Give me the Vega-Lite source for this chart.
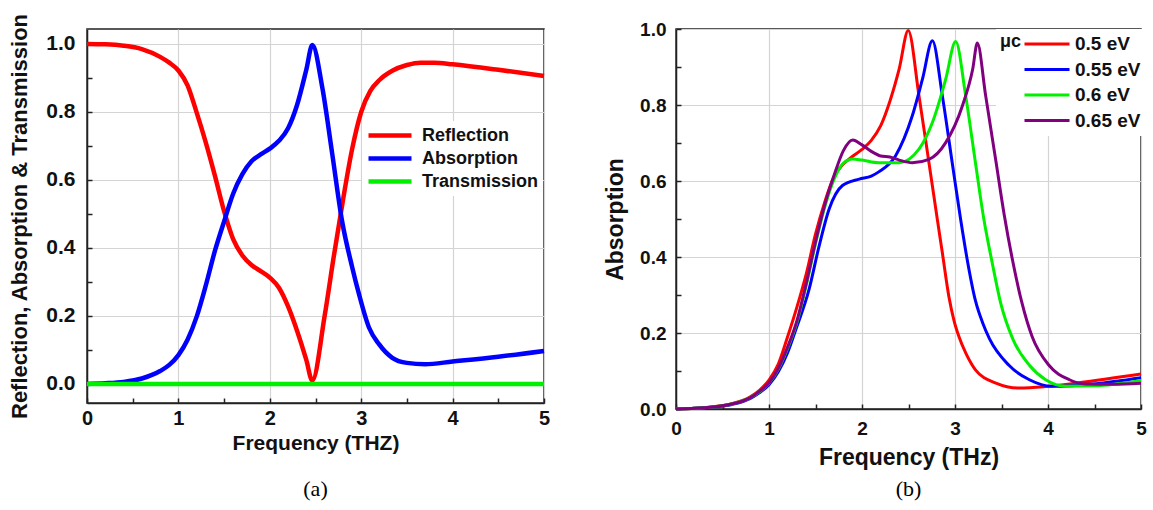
{
  "$schema": "https://vega.github.io/schema/vega-lite/v6.json",
  "padding": {"left": 8, "top": 12, "right": 0, "bottom": 0},
  "background": "white",
  "bounds": "flush",
  "spacing": 132,
  "resolve": {"scale": {"color": "independent"}, "legend": {"color": "independent"}},
  "config": {
    "font": "Liberation Sans",
    "view": {"stroke": "#222222", "strokeWidth": 1.5},
    "axis": {
      "labelFont": "Liberation Sans", "labelFontWeight": "bold", "labelColor": "#111111",
      "titleFont": "Liberation Sans", "titleFontWeight": "bold", "titleColor": "#111111",
      "domainColor": "#222222", "domainWidth": 1.5, "tickColor": "#222222", "tickWidth": 1.5,
      "gridColor": "#d4d4d4", "gridWidth": 1.2, "labelOverlap": false, "labelFlush": false
    },
    "legend": {
      "labelFont": "Liberation Sans", "labelFontWeight": "bold", "labelColor": "#111111",
      "titleFont": "Liberation Sans", "titleFontWeight": "bold", "titleColor": "#111111"
    },
    "title": {"font": "Liberation Serif", "fontWeight": "normal", "color": "#000000"}
  },
  "datasets": {
    "a": [
      {"series": "Reflection", "f": 0, "v": 1.0},
      {"series": "Reflection", "f": 0.2, "v": 0.999},
      {"series": "Reflection", "f": 0.4, "v": 0.995},
      {"series": "Reflection", "f": 0.6, "v": 0.985},
      {"series": "Reflection", "f": 0.8, "v": 0.962},
      {"series": "Reflection", "f": 0.9, "v": 0.945},
      {"series": "Reflection", "f": 1.0, "v": 0.922},
      {"series": "Reflection", "f": 1.1, "v": 0.878},
      {"series": "Reflection", "f": 1.2, "v": 0.798},
      {"series": "Reflection", "f": 1.3, "v": 0.71},
      {"series": "Reflection", "f": 1.4, "v": 0.612},
      {"series": "Reflection", "f": 1.5, "v": 0.508},
      {"series": "Reflection", "f": 1.6, "v": 0.425},
      {"series": "Reflection", "f": 1.7, "v": 0.378},
      {"series": "Reflection", "f": 1.8, "v": 0.35},
      {"series": "Reflection", "f": 1.9, "v": 0.332},
      {"series": "Reflection", "f": 2.0, "v": 0.313},
      {"series": "Reflection", "f": 2.1, "v": 0.283},
      {"series": "Reflection", "f": 2.2, "v": 0.228},
      {"series": "Reflection", "f": 2.3, "v": 0.155},
      {"series": "Reflection", "f": 2.4, "v": 0.07},
      {"series": "Reflection", "f": 2.465, "v": 0.01},
      {"series": "Reflection", "f": 2.6, "v": 0.2},
      {"series": "Reflection", "f": 2.7, "v": 0.375},
      {"series": "Reflection", "f": 2.8, "v": 0.54},
      {"series": "Reflection", "f": 2.9, "v": 0.69},
      {"series": "Reflection", "f": 3.0, "v": 0.8},
      {"series": "Reflection", "f": 3.1, "v": 0.862},
      {"series": "Reflection", "f": 3.2, "v": 0.894},
      {"series": "Reflection", "f": 3.34, "v": 0.921},
      {"series": "Reflection", "f": 3.5, "v": 0.938},
      {"series": "Reflection", "f": 3.65, "v": 0.945},
      {"series": "Reflection", "f": 3.8, "v": 0.945},
      {"series": "Reflection", "f": 4.0, "v": 0.94},
      {"series": "Reflection", "f": 4.5, "v": 0.924},
      {"series": "Reflection", "f": 5.0, "v": 0.906},
      {"series": "Absorption", "f": 0, "v": 0.0},
      {"series": "Absorption", "f": 0.2, "v": 0.002},
      {"series": "Absorption", "f": 0.4, "v": 0.006},
      {"series": "Absorption", "f": 0.6, "v": 0.016},
      {"series": "Absorption", "f": 0.8, "v": 0.038},
      {"series": "Absorption", "f": 0.9, "v": 0.056},
      {"series": "Absorption", "f": 1.0, "v": 0.085},
      {"series": "Absorption", "f": 1.1, "v": 0.13},
      {"series": "Absorption", "f": 1.2, "v": 0.198},
      {"series": "Absorption", "f": 1.3, "v": 0.29},
      {"series": "Absorption", "f": 1.4, "v": 0.392},
      {"series": "Absorption", "f": 1.5, "v": 0.478},
      {"series": "Absorption", "f": 1.6, "v": 0.56},
      {"series": "Absorption", "f": 1.7, "v": 0.617},
      {"series": "Absorption", "f": 1.8, "v": 0.655},
      {"series": "Absorption", "f": 1.9, "v": 0.675},
      {"series": "Absorption", "f": 2.0, "v": 0.692},
      {"series": "Absorption", "f": 2.1, "v": 0.715},
      {"series": "Absorption", "f": 2.2, "v": 0.752},
      {"series": "Absorption", "f": 2.3, "v": 0.822},
      {"series": "Absorption", "f": 2.4, "v": 0.925},
      {"series": "Absorption", "f": 2.465, "v": 0.997},
      {"series": "Absorption", "f": 2.575, "v": 0.871},
      {"series": "Absorption", "f": 2.684, "v": 0.675},
      {"series": "Absorption", "f": 2.79, "v": 0.48},
      {"series": "Absorption", "f": 2.9, "v": 0.345},
      {"series": "Absorption", "f": 2.976, "v": 0.264},
      {"series": "Absorption", "f": 3.085, "v": 0.166},
      {"series": "Absorption", "f": 3.195, "v": 0.117},
      {"series": "Absorption", "f": 3.34, "v": 0.077},
      {"series": "Absorption", "f": 3.5, "v": 0.062},
      {"series": "Absorption", "f": 3.7, "v": 0.058},
      {"series": "Absorption", "f": 4.0, "v": 0.066},
      {"series": "Absorption", "f": 4.5, "v": 0.08},
      {"series": "Absorption", "f": 5.0, "v": 0.097},
      {"series": "Transmission", "f": 0, "v": 0},
      {"series": "Transmission", "f": 1, "v": 0},
      {"series": "Transmission", "f": 2, "v": 0},
      {"series": "Transmission", "f": 3, "v": 0},
      {"series": "Transmission", "f": 4, "v": 0},
      {"series": "Transmission", "f": 5, "v": 0}
    ],
    "b": [
      {"series": "0.5 eV", "f": 0, "v": 0},
      {"series": "0.5 eV", "f": 0.2, "v": 0.002},
      {"series": "0.5 eV", "f": 0.4, "v": 0.006},
      {"series": "0.5 eV", "f": 0.6, "v": 0.014},
      {"series": "0.5 eV", "f": 0.8, "v": 0.032},
      {"series": "0.5 eV", "f": 0.9, "v": 0.05},
      {"series": "0.5 eV", "f": 1.0, "v": 0.076},
      {"series": "0.5 eV", "f": 1.1, "v": 0.118},
      {"series": "0.5 eV", "f": 1.2, "v": 0.19},
      {"series": "0.5 eV", "f": 1.3, "v": 0.268},
      {"series": "0.5 eV", "f": 1.4, "v": 0.355},
      {"series": "0.5 eV", "f": 1.5, "v": 0.46},
      {"series": "0.5 eV", "f": 1.6, "v": 0.545},
      {"series": "0.5 eV", "f": 1.7, "v": 0.612},
      {"series": "0.5 eV", "f": 1.8, "v": 0.645},
      {"series": "0.5 eV", "f": 1.9, "v": 0.665},
      {"series": "0.5 eV", "f": 2.0, "v": 0.683},
      {"series": "0.5 eV", "f": 2.1, "v": 0.707},
      {"series": "0.5 eV", "f": 2.2, "v": 0.745},
      {"series": "0.5 eV", "f": 2.3, "v": 0.81},
      {"series": "0.5 eV", "f": 2.4, "v": 0.895},
      {"series": "0.5 eV", "f": 2.497, "v": 0.996},
      {"series": "0.5 eV", "f": 2.613, "v": 0.824},
      {"series": "0.5 eV", "f": 2.72, "v": 0.648},
      {"series": "0.5 eV", "f": 2.81, "v": 0.499},
      {"series": "0.5 eV", "f": 2.864, "v": 0.411},
      {"series": "0.5 eV", "f": 2.935, "v": 0.295},
      {"series": "0.5 eV", "f": 2.99, "v": 0.232},
      {"series": "0.5 eV", "f": 3.043, "v": 0.19},
      {"series": "0.5 eV", "f": 3.12, "v": 0.145},
      {"series": "0.5 eV", "f": 3.22, "v": 0.103},
      {"series": "0.5 eV", "f": 3.44, "v": 0.068},
      {"series": "0.5 eV", "f": 3.69, "v": 0.055},
      {"series": "0.5 eV", "f": 3.975, "v": 0.059},
      {"series": "0.5 eV", "f": 4.33, "v": 0.069},
      {"series": "0.5 eV", "f": 5.0, "v": 0.092},
      {"series": "0.55 eV", "f": 0, "v": 0},
      {"series": "0.55 eV", "f": 0.2, "v": 0.002},
      {"series": "0.55 eV", "f": 0.4, "v": 0.005},
      {"series": "0.55 eV", "f": 0.6, "v": 0.012},
      {"series": "0.55 eV", "f": 0.8, "v": 0.028},
      {"series": "0.55 eV", "f": 0.9, "v": 0.043},
      {"series": "0.55 eV", "f": 1.0, "v": 0.064},
      {"series": "0.55 eV", "f": 1.1, "v": 0.098},
      {"series": "0.55 eV", "f": 1.2, "v": 0.148},
      {"series": "0.55 eV", "f": 1.287, "v": 0.208},
      {"series": "0.55 eV", "f": 1.43, "v": 0.314},
      {"series": "0.55 eV", "f": 1.538, "v": 0.428},
      {"series": "0.55 eV", "f": 1.645, "v": 0.525},
      {"series": "0.55 eV", "f": 1.79, "v": 0.588},
      {"series": "0.55 eV", "f": 1.97, "v": 0.605},
      {"series": "0.55 eV", "f": 2.1, "v": 0.613},
      {"series": "0.55 eV", "f": 2.18, "v": 0.624},
      {"series": "0.55 eV", "f": 2.36, "v": 0.666},
      {"series": "0.55 eV", "f": 2.54, "v": 0.771},
      {"series": "0.55 eV", "f": 2.65, "v": 0.868},
      {"series": "0.55 eV", "f": 2.757, "v": 0.969},
      {"series": "0.55 eV", "f": 2.864, "v": 0.824},
      {"series": "0.55 eV", "f": 2.97, "v": 0.648},
      {"series": "0.55 eV", "f": 3.06, "v": 0.5},
      {"series": "0.55 eV", "f": 3.13, "v": 0.395},
      {"series": "0.55 eV", "f": 3.22, "v": 0.285},
      {"series": "0.55 eV", "f": 3.3, "v": 0.225},
      {"series": "0.55 eV", "f": 3.37, "v": 0.185},
      {"series": "0.55 eV", "f": 3.58, "v": 0.115},
      {"series": "0.55 eV", "f": 3.8, "v": 0.077},
      {"series": "0.55 eV", "f": 4.04, "v": 0.06},
      {"series": "0.55 eV", "f": 4.5, "v": 0.066},
      {"series": "0.55 eV", "f": 5.0, "v": 0.082},
      {"series": "0.6 eV", "f": 0, "v": 0},
      {"series": "0.6 eV", "f": 0.2, "v": 0.002},
      {"series": "0.6 eV", "f": 0.4, "v": 0.005},
      {"series": "0.6 eV", "f": 0.6, "v": 0.013},
      {"series": "0.6 eV", "f": 0.8, "v": 0.03},
      {"series": "0.6 eV", "f": 0.9, "v": 0.046},
      {"series": "0.6 eV", "f": 1.0, "v": 0.068},
      {"series": "0.6 eV", "f": 1.1, "v": 0.105},
      {"series": "0.6 eV", "f": 1.2, "v": 0.16},
      {"series": "0.6 eV", "f": 1.3, "v": 0.228},
      {"series": "0.6 eV", "f": 1.4, "v": 0.325},
      {"series": "0.6 eV", "f": 1.5, "v": 0.435},
      {"series": "0.6 eV", "f": 1.6, "v": 0.532},
      {"series": "0.6 eV", "f": 1.7, "v": 0.605},
      {"series": "0.6 eV", "f": 1.8, "v": 0.647},
      {"series": "0.6 eV", "f": 1.9, "v": 0.658},
      {"series": "0.6 eV", "f": 2.0, "v": 0.655},
      {"series": "0.6 eV", "f": 2.18, "v": 0.648},
      {"series": "0.6 eV", "f": 2.4, "v": 0.648},
      {"series": "0.6 eV", "f": 2.61, "v": 0.683},
      {"series": "0.6 eV", "f": 2.757, "v": 0.754},
      {"series": "0.6 eV", "f": 2.9, "v": 0.868},
      {"series": "0.6 eV", "f": 3.007, "v": 0.967},
      {"series": "0.6 eV", "f": 3.115, "v": 0.824},
      {"series": "0.6 eV", "f": 3.22, "v": 0.648},
      {"series": "0.6 eV", "f": 3.31, "v": 0.5},
      {"series": "0.6 eV", "f": 3.4, "v": 0.385},
      {"series": "0.6 eV", "f": 3.49, "v": 0.28},
      {"series": "0.6 eV", "f": 3.62, "v": 0.185},
      {"series": "0.6 eV", "f": 3.8, "v": 0.115},
      {"series": "0.6 eV", "f": 3.975, "v": 0.077},
      {"series": "0.6 eV", "f": 4.19, "v": 0.06},
      {"series": "0.6 eV", "f": 4.5, "v": 0.061},
      {"series": "0.6 eV", "f": 5.0, "v": 0.075},
      {"series": "0.65 eV", "f": 0, "v": 0},
      {"series": "0.65 eV", "f": 0.2, "v": 0.002},
      {"series": "0.65 eV", "f": 0.4, "v": 0.005},
      {"series": "0.65 eV", "f": 0.6, "v": 0.013},
      {"series": "0.65 eV", "f": 0.8, "v": 0.03},
      {"series": "0.65 eV", "f": 0.9, "v": 0.047},
      {"series": "0.65 eV", "f": 1.0, "v": 0.069},
      {"series": "0.65 eV", "f": 1.1, "v": 0.107},
      {"series": "0.65 eV", "f": 1.2, "v": 0.163},
      {"series": "0.65 eV", "f": 1.3, "v": 0.232},
      {"series": "0.65 eV", "f": 1.4, "v": 0.33},
      {"series": "0.65 eV", "f": 1.5, "v": 0.44},
      {"series": "0.65 eV", "f": 1.6, "v": 0.538},
      {"series": "0.65 eV", "f": 1.7, "v": 0.615},
      {"series": "0.65 eV", "f": 1.8, "v": 0.68},
      {"series": "0.65 eV", "f": 1.9, "v": 0.708},
      {"series": "0.65 eV", "f": 2.0, "v": 0.695},
      {"series": "0.65 eV", "f": 2.1, "v": 0.678},
      {"series": "0.65 eV", "f": 2.2, "v": 0.666},
      {"series": "0.65 eV", "f": 2.3, "v": 0.663},
      {"series": "0.65 eV", "f": 2.4, "v": 0.655},
      {"series": "0.65 eV", "f": 2.54, "v": 0.648},
      {"series": "0.65 eV", "f": 2.72, "v": 0.657},
      {"series": "0.65 eV", "f": 2.9, "v": 0.701},
      {"series": "0.65 eV", "f": 3.08, "v": 0.798},
      {"series": "0.65 eV", "f": 3.19, "v": 0.894},
      {"series": "0.65 eV", "f": 3.24, "v": 0.963},
      {"series": "0.65 eV", "f": 3.33, "v": 0.824},
      {"series": "0.65 eV", "f": 3.44, "v": 0.652},
      {"series": "0.65 eV", "f": 3.53, "v": 0.51},
      {"series": "0.65 eV", "f": 3.62, "v": 0.39},
      {"series": "0.65 eV", "f": 3.72, "v": 0.279},
      {"series": "0.65 eV", "f": 3.83, "v": 0.19},
      {"series": "0.65 eV", "f": 4.01, "v": 0.115},
      {"series": "0.65 eV", "f": 4.23, "v": 0.077},
      {"series": "0.65 eV", "f": 4.4, "v": 0.066},
      {"series": "0.65 eV", "f": 4.7, "v": 0.065},
      {"series": "0.65 eV", "f": 5.0, "v": 0.068}
    ]
  },
  "hconcat": [
    {
      "width": 457,
      "height": 374,
      "view": {"stroke": "#222222", "strokeWidth": 1.5},
      "title": {"text": "(a)", "orient": "bottom", "fontSize": 22, "offset": 26},
      "data": {"name": "a"},
      "mark": {"type": "line", "interpolate": "monotone", "strokeWidth": 4.5},
      "encoding": {
        "x": {
          "field": "f", "type": "quantitative",
          "scale": {"domain": [0, 5], "nice": false},
          "axis": {
            "title": "Frequency (THZ)", "titleFontSize": 21, "titlePadding": 4,
            "values": [0, 0.5, 1, 1.5, 2, 2.5, 3, 3.5, 4, 4.5, 5],
            "labelExpr": "datum.value % 1 == 0 ? format(datum.value, 'd') : ''",
            "labelFontSize": 20, "tickSize": -5, "labelPadding": 10,
            "gridOpacity": {"condition": {"test": "datum.value % 1 != 0", "value": 0}, "value": 1}
          }
        },
        "y": {
          "field": "v", "type": "quantitative",
          "scale": {"domain": [-0.056, 1.044], "nice": false, "zero": false},
          "axis": {
            "title": "Reflection, Absorption & Transmission", "titleFontSize": 22, "titlePadding": 14,
            "values": [0, 0.1, 0.2, 0.3, 0.4, 0.5, 0.6, 0.7, 0.8, 0.9, 1.0],
            "labelExpr": "round(datum.value * 10) % 2 == 0 ? format(datum.value, '.1f') : ''",
            "labelFontSize": 21, "tickSize": -5, "labelPadding": 17,
            "gridOpacity": {"condition": {"test": "round(datum.value * 10) % 2 != 0", "value": 0}, "value": 1}
          }
        },
        "color": {
          "field": "series", "type": "nominal", "sort": null,
          "scale": {"domain": ["Reflection", "Absorption", "Transmission"], "range": ["#ff0000", "#0000ff", "#00f000"]},
          "legend": {
            "title": null, "orient": "none", "legendX": 275, "legendY": 92,
            "fillColor": "white", "padding": 4,
            "symbolType": "stroke", "symbolSize": 1849, "symbolStrokeWidth": 4.5,
            "clipHeight": 21,
            "labelFontSize": 18, "labelOffset": 8, "rowPadding": 2
          }
        }
      }
    },
    {
      "width": 465,
      "height": 380,
      "view": {"stroke": "#222222", "strokeWidth": 1.5},
      "title": {"text": "(b)", "orient": "bottom", "fontSize": 22, "offset": 10},
      "data": {"name": "b"},
      "mark": {"type": "line", "interpolate": "monotone", "strokeWidth": 3},
      "encoding": {
        "x": {
          "field": "f", "type": "quantitative",
          "scale": {"domain": [0, 5], "nice": false},
          "axis": {
            "title": "Frequency (THz)", "titleFontSize": 23, "titlePadding": 8,
            "values": [0, 0.5, 1, 1.5, 2, 2.5, 3, 3.5, 4, 4.5, 5],
            "labelExpr": "datum.value % 1 == 0 ? format(datum.value, 'd') : ''",
            "labelFontSize": 19, "tickSize": -5, "labelPadding": 15,
            "gridOpacity": {"condition": {"test": "datum.value % 1 != 0", "value": 0}, "value": 1}
          }
        },
        "y": {
          "field": "v", "type": "quantitative",
          "scale": {"domain": [0, 1], "nice": false},
          "axis": {
            "title": "Absorption", "titleFontSize": 23, "titlePadding": 12,
            "values": [0, 0.1, 0.2, 0.3, 0.4, 0.5, 0.6, 0.7, 0.8, 0.9, 1.0],
            "labelExpr": "round(datum.value * 10) % 2 == 0 ? format(datum.value, '.1f') : ''",
            "labelFontSize": 19, "tickSize": -5, "labelPadding": 15,
            "gridOpacity": {"condition": {"test": "round(datum.value * 10) % 2 != 0", "value": 0}, "value": 1}
          }
        },
        "color": {
          "field": "series", "type": "nominal", "sort": null,
          "scale": {"domain": ["0.5 eV", "0.55 eV", "0.6 eV", "0.65 eV"], "range": ["#ff0000", "#0000ff", "#00f000", "#800080"]},
          "legend": {
            "title": "μc", "titleOrient": "left", "titleAnchor": "start", "titleFontSize": 18, "titlePadding": 1,
            "orient": "none", "legendX": 320, "legendY": 0,
            "fillColor": "white", "padding": 4,
            "symbolType": "stroke", "symbolSize": 2025, "symbolStrokeWidth": 3,
            "clipHeight": 22,
            "labelFontSize": 19, "labelOffset": 4, "rowPadding": 3.5
          }
        }
      }
    }
  ]
}
